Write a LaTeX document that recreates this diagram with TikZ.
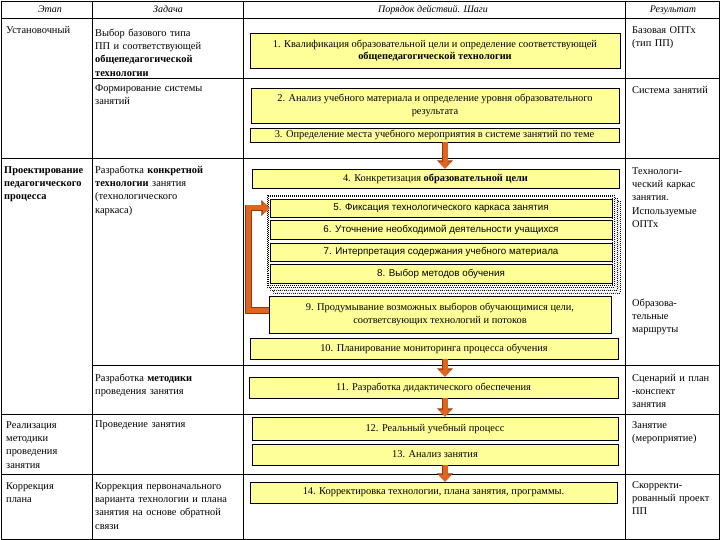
\documentclass[tikz,border=0pt]{standalone}
\usepackage{fontspec}
\setmainfont{Liberation Serif}
\newfontfamily\sansf{Liberation Sans}
\usetikzlibrary{arrows.meta,patterns,calc}
\definecolor{ybfill}{HTML}{FFFF99}
\definecolor{arrfill}{HTML}{E0641E}
\definecolor{arredge}{HTML}{8A3A10}
\begin{document}
\begin{tikzpicture}[x=1pt,y=-1pt,
  grid/.style={line width=0.8pt},
  cell/.style={anchor=base west, inner sep=0pt, text width=#1, align=left, font=\fontsize{10.4}{13.2}\selectfont},
  hdr/.style={anchor=base, inner sep=0pt, font=\itshape\fontsize{10}{11}\selectfont},
  ybox/.style n args={2}{draw=black, line width=0.6pt, fill=ybfill, inner sep=0pt, align=center,
     minimum width=#1, minimum height=#2, font=\fontsize{10.4}{12.5}\selectfont},
  sbox/.style n args={2}{ybox={#1}{#2}, font=\sansf\fontsize{9.8}{11}\selectfont},
  arr/.style={line width=5pt, draw=arrfill, line join=miter,
     -{Triangle[width=13pt,length=7pt,fill=arrfill]},
     preaction={draw=arredge, line width=6.6pt, -{Triangle[width=15.5pt,length=8.4pt,fill=arredge]}}},
  layer/.style={draw=black, line width=0.5pt, dash pattern=on 0.8pt off 1.2pt}
]
\useasboundingbox (0,0) rectangle (720,540);
\fill[white] (0,0) rectangle (720,540);

% table grid
\draw[grid] (1,1) rectangle (719,539);
\draw[grid] (92,1) -- (92,539);
\draw[grid] (243,1) -- (243,539);
\draw[grid] (625,1) -- (625,539);
\draw[grid] (1,18) -- (719,18);
\draw[grid] (92,78) -- (719,78);
\draw[grid] (1,158) -- (719,158);
\draw[grid] (92,365) -- (719,365);
\draw[grid] (1,414) -- (719,414);
\draw[grid] (1,474) -- (719,474);

% header
\node[hdr] (h1) at (50,13) {Этап};
\node[hdr] (h2) at (168,13) {Задача};
\node[hdr] (h3) at (433,13) {Порядок действий. Шаги};
\node[hdr] (h4) at (673,13) {Результат};

% column 1
\node[cell=88pt] (e1) at (6,33.5) {Установочный};
\node[cell=90pt] (e2) at (4,173.5) {\textbf{Проектирование}\\\textbf{педагогического}\\\textbf{процесса}};
\node[cell=86pt] (e3) at (6,428.5) {Реализация\\методики\\проведения\\занятия};
\node[cell=86pt] (e4) at (6,489.5) {Коррекция\\плана};

% column 2
\node[cell=148pt] (z1) at (95,36.5) {Выбор базового типа\\ПП и соответствующей\\\textbf{общепедагогической}\\\textbf{технологии}};
\node[cell=148pt] (z2) at (95,91.5) {Формирование системы\\занятий};
\node[cell=148pt] (z3) at (95,173.5) {Разработка \textbf{конкретной}\\\textbf{технологии} занятия\\(технологического\\каркаса)};
\node[cell=148pt] (z4) at (95,381.5) {Разработка \textbf{методики}\\проведения занятия};
\node[cell=148pt] (z5) at (95,427.5) {Проведение занятия};
\node[cell=148pt] (z6) at (95,489.5) {Коррекция первоначального\\варианта технологии и плана\\занятия на основе обратной\\связи};

% column 4
\node[cell=88pt] (r1) at (632,33.5) {Базовая ОПТх\\(тип ПП)};
\node[cell=88pt] (r2) at (632,93.5) {Система занятий};
\node[cell=88pt] (r3) at (632,174.5) {Технологи-\\ческий каркас\\занятия.\\Используемые\\ОПТх};
\node[cell=88pt] (r4) at (632,306.5) {Образова-\\тельные\\маршруты};
\node[cell=88pt] (r5) at (632,381.5) {Сценарий и план\\-конспект\\занятия};
\node[cell=88pt] (r6) at (632,428.5) {Занятие\\(мероприятие)};
\node[cell=88pt] (r7) at (632,488.5) {Скорректи-\\рованный проект\\ПП};

% stack frame behind steps 5-8
\draw[layer, fill=white, postaction={pattern=north east lines, pattern color=gray!80}] (273,201) rectangle (620,293);
\draw[layer, fill=white, postaction={pattern=north east lines, pattern color=gray!80}] (270,198) rectangle (617,290);
\draw[layer, fill=white] (267,195) rectangle (614,287);
\draw[layer] (268.5,196.5) rectangle (612.5,285.5);

% step boxes
\node[ybox={370pt}{35pt}] (b1) at (435,50.5) {1. Квалификация образовательной цели и определение соответствующей\\\textbf{общепедагогической технологии}};
\node[ybox={368pt}{35pt}] (b2) at (435,105.5) {2. Анализ учебного материала и определение уровня образовательного\\результата};
\node[ybox={369pt}{14pt}] (b3) at (434.5,135) {3. Определение места учебного мероприятия в системе занятий по теме};
\node[ybox={367pt}{19pt}] (b4) at (435.5,178.5) {4. Конкретизация \textbf{образовательной цели}};
\node[sbox={342pt}{18pt}] (b5) at (441,208) {5. Фиксация технологического каркаса занятия};
\node[sbox={342pt}{19pt}] (b6) at (441,229.5) {6. Уточнение необходимой деятельности учащихся};
\node[sbox={342pt}{18pt}] (b7) at (441,252) {7. Интерпретация содержания учебного материала};
\node[sbox={342pt}{19pt}] (b8) at (441,273.5) {8. Выбор методов обучения};
\node[ybox={342pt}{37pt}] (b9) at (440,314.5) {9. Продумывание возможных выборов обучающимися цели,\\соответсвующих технологий и потоков};
\node[ybox={368pt}{21pt}] (b10) at (434,348.5) {10. Планирование мониторинга процесса обучения};
\node[ybox={369pt}{21pt}] (b11) at (433.5,387.5) {11. Разработка дидактического обеспечения};
\node[ybox={366pt}{23pt}] (b12) at (435,428.5) {12. Реальный учебный процесс};
\node[ybox={366pt}{21pt}] (b13) at (435,454.5) {13. Анализ занятия};
\node[ybox={367pt}{21pt}] (b14) at (433.5,492.5) {14. Корректировка технологии, плана занятия, программы.};

% arrows
\coordinate (ax) at (445,0);
\draw[arr] (b3.south -| ax) -- (b4.north -| ax);
\draw[arr] (b10.south -| ax) -- (b11.north -| ax);
\draw[arr] (b11.south -| ax) -- (b12.north -| ax);
\draw[arr] (b13.south -| ax) -- (b14.north -| ax);
\draw[arr] ([yshift=4pt]b9.west) -- ++(-20,0) |- (b5.west);
\end{tikzpicture}
\end{document}
